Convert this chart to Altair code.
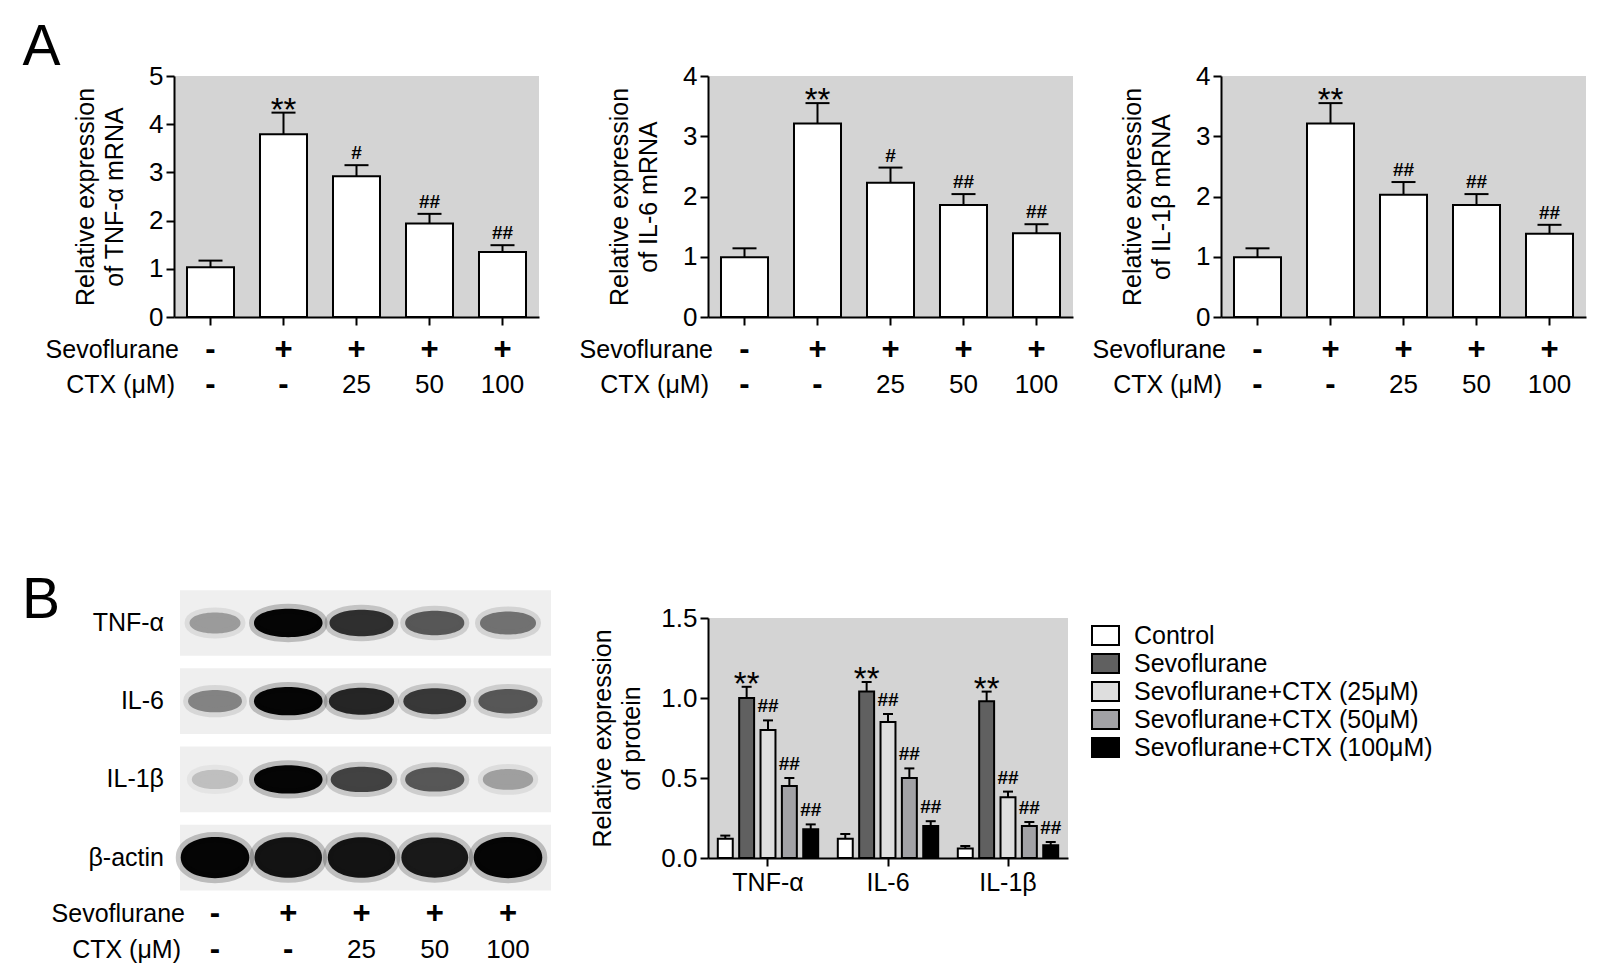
import altair as alt
import pandas as pd

# ===========================
# DADOS
# ===========================
lanes = ["Control", "Sevo", "Sevo+25", "Sevo+50", "Sevo+100"]
sevoflurane = ["-", "+", "+", "+", "+"]
ctx = ["-", "-", "25", "50", "100"]

tnf_mrna = [1.03, 3.79, 2.92, 1.94, 1.35]
tnf_mrna_erro = [0.14, 0.45, 0.23, 0.20, 0.14]
tnf_mrna_sinal = ["", "**", "#", "##", "##"]

il6_mrna = [0.99, 3.21, 2.23, 1.86, 1.39]
il6_mrna_erro = [0.15, 0.34, 0.25, 0.18, 0.15]
il6_mrna_sinal = ["", "**", "#", "##", "##"]

il1b_mrna = [0.99, 3.21, 2.03, 1.86, 1.38]
il1b_mrna_erro = [0.15, 0.34, 0.21, 0.18, 0.15]
il1b_mrna_sinal = ["", "**", "##", "##", "##"]

proteinas = ["TNF-α", "IL-6", "IL-1β"]
grupos = ["Control", "Sevoflurane", "Sevoflurane+CTX (25μM)",
          "Sevoflurane+CTX (50μM)", "Sevoflurane+CTX (100μM)"]
cores = ["#ffffff", "#606060", "#dedede", "#a1a1a5", "#000000"]

prot_tnf = [0.12, 1.00, 0.80, 0.45, 0.18]
prot_tnf_erro = [0.02, 0.07, 0.06, 0.05, 0.03]
prot_il6 = [0.12, 1.04, 0.85, 0.50, 0.20]
prot_il6_erro = [0.03, 0.06, 0.05, 0.06, 0.03]
prot_il1b = [0.06, 0.98, 0.38, 0.20, 0.08]
prot_il1b_erro = [0.015, 0.06, 0.035, 0.025, 0.02]
prot_sinal = ["", "**", "##", "##", "##"]

# intensidade das bandas do western blot (0 = sem banda, 1 = saturada)
bandas_blot = ["TNF-α", "IL-6", "IL-1β", "β-actin"]
blot_tnf = [0.3, 1.0, 0.8, 0.6, 0.48]
blot_il6 = [0.4, 1.0, 0.85, 0.75, 0.6]
blot_il1b = [0.15, 1.0, 0.7, 0.6, 0.28]
blot_actin = [1.0, 0.95, 0.95, 0.92, 1.0]

FONTE = "Liberation Sans"
CINZA = "#d4d4d4"


def rotulo(texto, x, y, **kw):
    # texto solto (nomes das linhas, letras dos painéis)
    return alt.Chart(pd.DataFrame({"t": [texto]})).mark_text(**kw).encode(
        x=alt.value(x), y=alt.value(y), text="t:N"
    )


# ===========================
# PAINEL A: mRNA
# ===========================
def painel_mrna(valores, erros, sinais, titulo, y_max, letra=None):
    df = pd.DataFrame({"grupo": lanes, "media": valores, "erro": erros,
                       "sinal": sinais, "sevo": sevoflurane, "ctx": ctx})
    base = alt.Chart(df).transform_calculate(topo="datum.media + datum.erro")

    x = alt.X("grupo:N", sort=lanes,
              scale=alt.Scale(paddingInner=0.356, paddingOuter=0.178),
              axis=alt.Axis(labels=False, title=None))
    eixo_y = alt.Axis(values=list(range(y_max + 1)), title=titulo, titlePadding=21)
    escala_y = alt.Scale(domain=[0, y_max], nice=False)

    def y(campo):
        return alt.Y(campo, scale=escala_y, axis=eixo_y)

    barras = base.mark_bar(fill="white", stroke="black", strokeWidth=2).encode(x=x, y=y("media:Q"))
    haste = base.mark_rule(color="black", strokeWidth=2).encode(x=x, y=y("media:Q"), y2="topo:Q")
    tampa = base.mark_tick(orient="horizontal", size=24, thickness=2, color="black", opacity=1).encode(
        x=x, y=y("topo:Q"))
    asteriscos = base.transform_filter("datum.sinal == '**'").mark_text(
        fontSize=33, baseline="alphabetic", dy=8, color="black").encode(
        x=x, y=y("topo:Q"), text="sinal:N")
    cerquilhas = base.transform_filter("indexof(datum.sinal, '#') >= 0").mark_text(
        fontSize=19, fontWeight="bold", baseline="alphabetic", dy=-6, color="black").encode(
        x=x, y=y("topo:Q"), text="sinal:N")

    linha_sevo = base.mark_text(fontSize=31, fontWeight="bold", baseline="middle").encode(
        x=x, y=alt.value(273.5), text="sevo:N")
    ctx_traco = base.transform_filter("datum.ctx == '-'").mark_text(
        fontSize=31, fontWeight="bold", baseline="middle").encode(x=x, y=alt.value(309), text="ctx:N")
    ctx_num = base.transform_filter("datum.ctx != '-'").mark_text(
        fontSize=26, baseline="middle").encode(x=x, y=alt.value(309), text="ctx:N")

    camadas = [barras, haste, tampa, asteriscos, cerquilhas, linha_sevo, ctx_traco, ctx_num,
               rotulo("Sevoflurane", 5, 273.5, align="right", baseline="middle", fontSize=25),
               rotulo("CTX (μM)", 1, 309, align="right", baseline="middle", fontSize=25)]
    if letra:
        camadas.append(rotulo(letra, -151.5, -11.5, align="left", baseline="alphabetic", fontSize=57))

    return alt.layer(*camadas).properties(
        width=365, height=241, view=alt.ViewBackground(fill=CINZA, strokeWidth=0))


# ===========================
# PAINEL B: western blot
# ===========================
def painel_blot():
    linhas = []
    for r, vals in enumerate([blot_tnf, blot_il6, blot_il1b, blot_actin]):
        for i, v in enumerate(vals):
            linhas.append({"faixa": i, "linha": r, "intensidade": v,
                           "tipo": "actina" if r == 3 else "citocina"})
    df = pd.DataFrame(linhas)
    tiras = pd.DataFrame({"linha": [0, 1, 2, 3], "nome": bandas_blot})
    pistas = pd.DataFrame({"faixa": list(range(5)), "sevo": sevoflurane, "ctx": ctx})

    escala_x = alt.Scale(domain=[-0.56, 4.71], nice=False, zero=False)
    escala_y = alt.Scale(domain=[-0.064, 3.005], nice=False, zero=False, reverse=True)
    x = alt.X("faixa:Q", scale=escala_x, axis=None)

    fundo = alt.Chart(tiras).transform_calculate(
        y0="datum.linha - 0.42", y1="datum.linha + 0.42"
    ).mark_rect(fill="#efefef").encode(
        x=alt.X(datum=-0.478, type="quantitative", scale=escala_x, axis=None),
        x2=alt.X2(datum=4.587),
        y=alt.Y("y0:Q", scale=escala_y, axis=None), y2="y1:Q")

    tons = alt.Scale(domain=[0, 1], range=["#e4e4e4", "#050505"])
    formas = alt.Scale(domain=["citocina", "actina"], range=[
        "M-1,0 C-1,-0.55 1,-0.55 1,0 C1,0.55 -1,0.55 -1,0 Z",
        "M-1,0 C-1,-0.8 1,-0.8 1,0 C1,0.8 -1,0.8 -1,0 Z"])
    bandas = alt.Chart(df).mark_point(filled=True, opacity=1, strokeWidth=10, strokeOpacity=0.22).encode(
        x=x, y=alt.Y("linha:Q", scale=escala_y, axis=None),
        fill=alt.Fill("intensidade:Q", scale=tons, legend=None),
        stroke=alt.Stroke("intensidade:Q", scale=tons, legend=None),
        size=alt.Size("intensidade:Q", scale=alt.Scale(domain=[0, 1], range=[1700, 4700]), legend=None),
        shape=alt.Shape("tipo:N", scale=formas, legend=None))

    nomes = alt.Chart(tiras).mark_text(align="right", baseline="middle", fontSize=25).encode(
        x=alt.value(-10), y=alt.Y("linha:Q", scale=escala_y, axis=None), text="nome:N")

    base = alt.Chart(pistas)
    linha_sevo = base.mark_text(fontSize=31, fontWeight="bold", baseline="middle").encode(
        x=x, y=alt.value(296), text="sevo:N")
    ctx_traco = base.transform_filter("datum.ctx == '-'").mark_text(
        fontSize=31, fontWeight="bold", baseline="middle").encode(x=x, y=alt.value(332), text="ctx:N")
    ctx_num = base.transform_filter("datum.ctx != '-'").mark_text(
        fontSize=26, baseline="middle").encode(x=x, y=alt.value(332), text="ctx:N")

    return alt.layer(
        fundo, bandas, nomes, linha_sevo, ctx_traco, ctx_num,
        rotulo("Sevoflurane", 11, 296, align="right", baseline="middle", fontSize=25),
        rotulo("CTX (μM)", 7, 332, align="right", baseline="middle", fontSize=25),
        rotulo("B", -152, 0, align="left", baseline="alphabetic", fontSize=57),
    ).properties(width=386, height=240, view=alt.ViewBackground(fill="white", strokeWidth=0))


# ===========================
# PAINEL B: proteína (barras agrupadas)
# ===========================
def painel_proteina():
    linhas = []
    for p, vals, errs in zip(proteinas, [prot_tnf, prot_il6, prot_il1b],
                             [prot_tnf_erro, prot_il6_erro, prot_il1b_erro]):
        for g, v, e, s in zip(grupos, vals, errs, prot_sinal):
            linhas.append({"proteina": p, "grupo": g, "media": v, "erro": e, "sinal": s})
    df = pd.DataFrame(linhas)
    base = alt.Chart(df).transform_calculate(topo="datum.media + datum.erro")

    x = alt.X("proteina:N", sort=proteinas,
              scale=alt.Scale(paddingInner=0.11, paddingOuter=0.055),
              axis=alt.Axis(title=None, labelAngle=0, labelPadding=4, labelFontSize=25))
    xo = alt.XOffset("grupo:N", sort=grupos, scale=alt.Scale(paddingInner=0.3, paddingOuter=0.15))
    eixo_y = alt.Axis(values=[0, 0.5, 1.0, 1.5], format=".1f",
                      title=["Relative expression", "of protein"], titlePadding=16)
    escala_y = alt.Scale(domain=[0, 1.5], nice=False)

    def y(campo):
        return alt.Y(campo, scale=escala_y, axis=eixo_y)

    barras = base.mark_bar(stroke="black", strokeWidth=2, opacity=1).encode(
        x=x, xOffset=xo, y=y("media:Q"),
        color=alt.Color("grupo:N", sort=grupos, scale=alt.Scale(domain=grupos, range=cores),
                        legend=alt.Legend(
                            title=None, orient="none", legendX=383, legendY=3, padding=0,
                            labelFontSize=25, labelColor="black", labelOffset=14, labelLimit=0,
                            rowPadding=0,
                            symbolType="M-1,-0.7 L1,-0.7 L1,0.7 L-1,0.7 Z", symbolSize=729,
                            symbolStrokeColor="black", symbolStrokeWidth=2, symbolOpacity=1)))
    haste = base.mark_rule(color="black", strokeWidth=2).encode(
        x=x, xOffset=xo, y=y("media:Q"), y2="topo:Q")
    tampa = base.mark_tick(orient="horizontal", size=10, thickness=2, color="black", opacity=1).encode(
        x=x, xOffset=xo, y=y("topo:Q"))
    asteriscos = base.transform_filter("datum.sinal == '**'").mark_text(
        fontSize=33, baseline="alphabetic", dy=8, color="black").encode(
        x=x, xOffset=xo, y=y("topo:Q"), text="sinal:N")
    cerquilhas = base.transform_filter("indexof(datum.sinal, '#') >= 0").mark_text(
        fontSize=19, fontWeight="bold", baseline="alphabetic", dy=-8, color="black").encode(
        x=x, xOffset=xo, y=y("topo:Q"), text="sinal:N")

    return alt.layer(barras, haste, tampa, asteriscos, cerquilhas).properties(
        width=360, height=240, view=alt.ViewBackground(fill=CINZA, strokeWidth=0))


a1 = painel_mrna(tnf_mrna, tnf_mrna_erro, tnf_mrna_sinal,
                 ["Relative expression", "of TNF-α mRNA"], 5, letra="A")
a2 = painel_mrna(il6_mrna, il6_mrna_erro, il6_mrna_sinal,
                 ["Relative expression", "of IL-6 mRNA"], 4)
a3 = painel_mrna(il1b_mrna, il1b_mrna_erro, il1b_mrna_sinal,
                 ["Relative expression", "of IL-1β mRNA"], 4)

figura = alt.concat(
    a1, a2, a3, painel_blot(), painel_proteina(),
    columns=3, spacing={"row": 301, "column": 148}, bounds="flush", align="none"
).resolve_scale(
    x="independent", y="independent", color="independent"
).properties(
    padding={"left": 14, "top": 10, "right": 5, "bottom": 5}
).configure(
    font=FONTE
).configure_axis(
    domainColor="black", domainWidth=2, tickColor="black", tickWidth=2, tickSize=8,
    labelColor="black", labelFontSize=26, labelPadding=3, labelFont=FONTE,
    titleColor="black", titleFontSize=25, titleFontWeight="normal", titleFont=FONTE,
    titleLineHeight=29, grid=False
).configure_view(strokeWidth=0)

figura.save("out.html", embed_options={"renderer": "svg", "actions": False})
